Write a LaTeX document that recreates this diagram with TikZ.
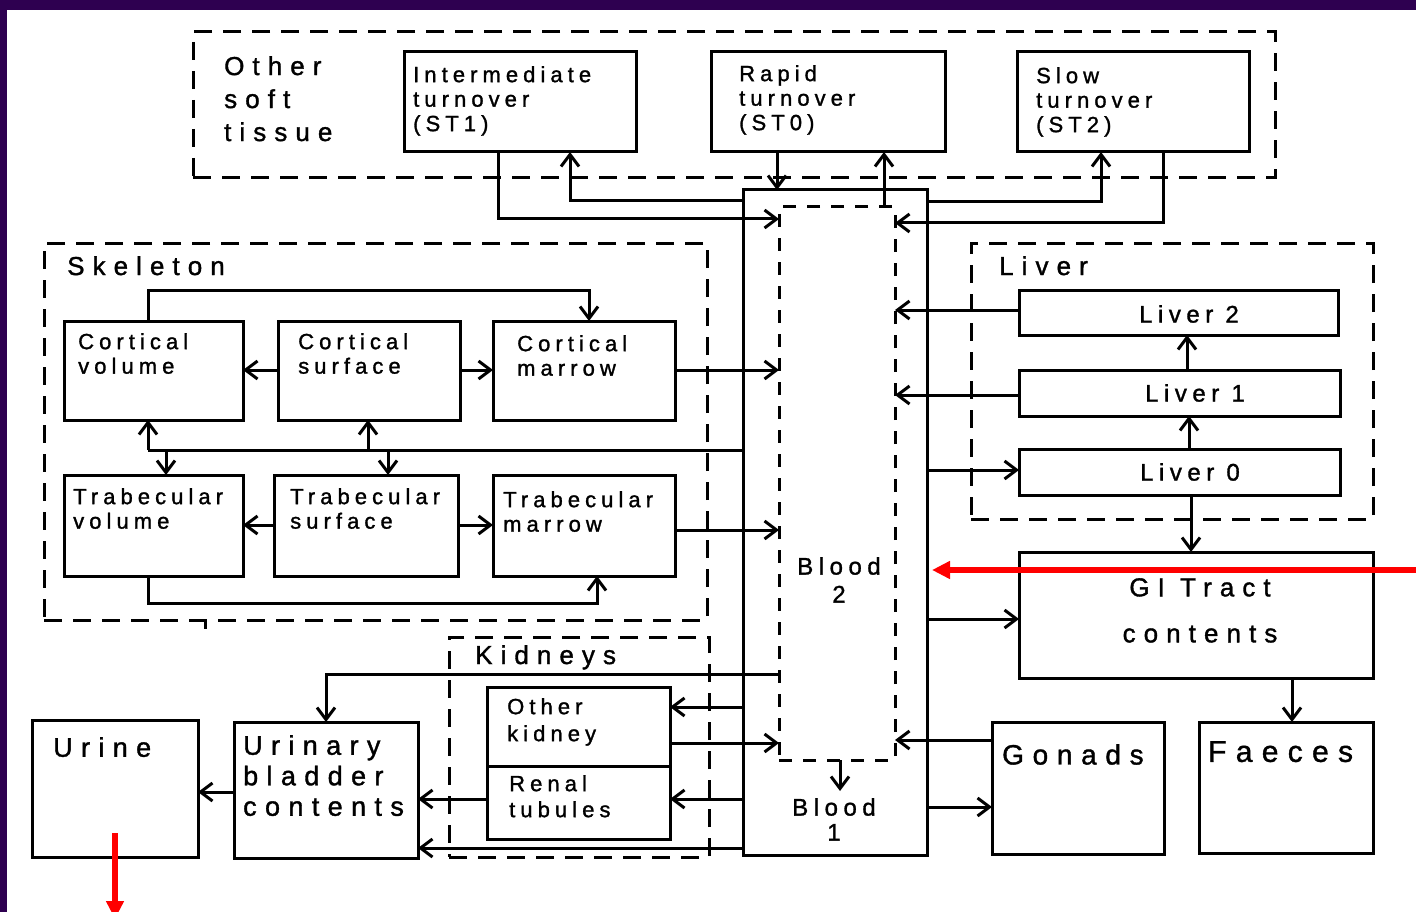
\documentclass[tikz,border=0pt]{standalone}
\usepackage{fontspec}
\setmainfont{Liberation Sans}
\newfontfamily\bigfont{Liberation Sans}[LetterSpace=31,FakeBold=1.3]
\newfontfamily\smfont{Liberation Sans}[LetterSpace=23,FakeBold=1.3]
\usetikzlibrary{arrows.meta}
\definecolor{framec}{RGB}{46,0,80}
\tikzset{
  box/.style={draw, line width=3pt, anchor=north west, inner sep=0pt, outer sep=0pt},
  grp/.style={draw, line width=3pt, dash pattern=on 18pt off 11pt, anchor=north west, inner sep=0pt, outer sep=0pt},
  bgrp/.style={draw, line width=3pt, dash pattern=on 13pt off 11pt, anchor=north west, inner sep=0pt, outer sep=0pt},
  conn/.style={line width=3pt},
  arr/.style={line width=3pt, -{Straight Barb[length=12pt,width=18pt,line width=3pt]}},
  redarr/.style={draw=red, line width=5.5pt, -{Triangle[length=18pt,width=17pt]}},
  biglbl/.style={anchor=north west, inner sep=0pt, align=left, font=\bigfont\fontsize{26}{33}\selectfont},
  smlbl/.style={anchor=north west, inner sep=0pt, align=left, font=\smfont\fontsize{22}{24.5}\selectfont},
  midlbl/.style={inner sep=0pt, align=center, font=\smfont\fontsize{24}{27}\selectfont},
}
\newcommand\mkbox[6]{\node[#1, minimum width={#4pt-#2pt}, minimum height={#5pt-#3pt}] (#6) at (#2,#3) {};}
\begin{document}
\begin{tikzpicture}[x=1pt,y=-1pt]
\useasboundingbox (0,0) rectangle (1416,912);
\fill[framec] (0,0) rectangle (1416,912);
\fill[white] (7,10) rectangle (1416,912);

% groups
\mkbox{grp}{193}{32}{1275}{178}{gost}
\mkbox{grp}{44}{243}{707}{620}{gskel}
\mkbox{grp}{971}{243}{1373}{519}{gliver}
\mkbox{grp}{449}{637}{709}{857}{gkid}
\draw[conn] (gskel.south -| 205,0) -- (205,629);

% boxes
\mkbox{box}{404}{52}{636}{152}{st1}
\mkbox{box}{711}{52}{945}{152}{st0}
\mkbox{box}{1017}{52}{1249}{152}{st2}
\mkbox{box}{743}{190}{927}{855}{blood1}
\mkbox{bgrp}{779}{207}{895}{760}{blood2}
\mkbox{box}{64}{321}{243}{420}{cvol}
\mkbox{box}{278}{321}{460}{420}{csur}
\mkbox{box}{493}{321}{675}{420}{cmar}
\mkbox{box}{64}{475}{243}{576}{tvol}
\mkbox{box}{274}{475}{458}{576}{tsur}
\mkbox{box}{493}{475}{675}{576}{tmar}
\mkbox{box}{1019}{290}{1338}{335}{liver2}
\mkbox{box}{1019}{370}{1340}{416}{liver1}
\mkbox{box}{1019}{449}{1340}{495}{liver0}
\mkbox{box}{1019}{552}{1373}{678}{gi}
\mkbox{box}{1199}{722}{1373}{853}{faeces}
\mkbox{box}{992}{722}{1164}{854}{gonads}
\mkbox{box}{487}{687}{670}{766}{okid}
\mkbox{box}{487}{766}{670}{839}{renal}
\mkbox{box}{234}{722}{418}{858}{bladder}
\mkbox{box}{32}{720}{198}{857}{urine}

% labels
\node[biglbl] (tost) at (224,56) {Other\\soft\\tissue};
\node[smlbl] (tst1) at (413,66) {Intermediate\\turnover\\(ST1)};
\node[smlbl] (tst0) at (739,65) {Rapid\\turnover\\(ST0)};
\node[smlbl] (tst2) at (1036,67) {Slow\\turnover\\(ST2)};
\node[biglbl] (tskel) at (67,256) {Skeleton};
\node[smlbl] (tcvol) at (78,333) {Cortical\\volume};
\node[smlbl] (tcsur) at (298,333) {Cortical\\surface};
\node[smlbl] (tcmar) at (517,335) {Cortical\\marrow};
\node[smlbl] (ttvol) at (73,488) {Trabecular\\volume};
\node[smlbl] (ttsur) at (290,488) {Trabecular\\surface};
\node[smlbl] (ttmar) at (503,491) {Trabecular\\marrow};
\node[biglbl] (tliver) at (999,256) {Liver};
\node[midlbl] (tliv2) at (1189,314) {Liver 2};
\node[midlbl] (tliv1) at (1195,393) {Liver 1};
\node[midlbl] (tliv0) at (1190,472) {Liver 0};
\node[midlbl, anchor=north, font=\smfont\fontsize{24}{28}\selectfont] (tb2) at (839,557) {Blood\\2};
\node[midlbl, anchor=north, font=\smfont\fontsize{24}{25}\selectfont] (tb1) at (834,798) {Blood\\1};
\node[biglbl, anchor=north, align=center, font=\bigfont\fontsize{26}{46}\selectfont] (tgi) at (1200,578) {GI Tract\\contents};
\node[biglbl] (tkid) at (475,645) {Kidneys};
\node[smlbl, font=\smfont\fontsize{22}{27}\selectfont] (tokid) at (507,698) {Other\\kidney};
\node[smlbl, font=\smfont\fontsize{22}{26}\selectfont] (trenal) at (509,775) {Renal\\tubules};
\node[biglbl, font=\bigfont\fontsize{27}{30.5}\selectfont] (tblad) at (243,735) {Urinary\\bladder\\contents};
\node[biglbl, font=\bigfont\fontsize{27}{30}\selectfont] (turine) at (53,737) {Urine};
\node[biglbl, font=\bigfont\fontsize{28}{30}\selectfont] (tgon) at (1002,744) {Gonads};
\node[biglbl, font=\bigfont\fontsize{30}{32}\selectfont] (tfae) at (1208,741) {Faeces};

% other soft tissue connectors
\draw[arr] (st1.south -| 498,0) |- (blood2.west |- 0,219);
\draw[arr] (blood1.west |- 0,201) -| (st1.south -| 570,0);
\draw[arr] (st0.south -| 777,0) -- (blood1.north -| 777,0);
\draw[arr] (blood2.north -| 884,0) -- (st0.south -| 884,0);
\draw[arr] (blood1.east |- 0,202) -| (st2.south -| 1101,0);
\draw[arr] (st2.south -| 1163,0) |- (blood2.east |- 0,223);

% skeleton connectors
\draw[arr] (cvol.north -| 148,0) -- (148,290) -- (589,290) -- (cmar.north -| 589,0);
\draw[arr] (csur.west |- 0,370) -- (cvol.east |- 0,370);
\draw[arr] (csur.east |- 0,370) -- (cmar.west |- 0,370);
\draw[arr] (cmar.east |- 0,370) -- (blood2.west |- 0,370);
\draw[conn] (blood1.west |- 0,450) -- (148,450);
\draw[arr] (148,450) -- (cvol.south -| 148,0);
\draw[arr] (166,450) -- (tvol.north -| 166,0);
\draw[arr] (368,450) -- (csur.south -| 368,0);
\draw[arr] (388,450) -- (tsur.north -| 388,0);
\draw[arr] (tsur.west |- 0,525) -- (tvol.east |- 0,525);
\draw[arr] (tsur.east |- 0,525) -- (tmar.west |- 0,525);
\draw[arr] (tmar.east |- 0,530) -- (blood2.west |- 0,530);
\draw[arr] (tvol.south -| 148,0) -- (148,603) -- (597,603) -- (tmar.south -| 597,0);

% liver, GI, gonads
\draw[arr] (liver2.west |- 0,310) -- (blood2.east |- 0,310);
\draw[arr] (liver1.west |- 0,395) -- (blood2.east |- 0,395);
\draw[arr] (blood1.east |- 0,470) -- (liver0.west |- 0,470);
\draw[arr] (liver1.north -| 1187,0) -- (liver2.south -| 1187,0);
\draw[arr] (liver0.north -| 1189,0) -- (liver1.south -| 1189,0);
\draw[arr] (liver0.south -| 1191,0) -- (gi.north -| 1191,0);
\draw[arr] (blood1.east |- 0,619) -- (gi.west |- 0,619);
\draw[arr] (gi.south -| 1292,0) -- (faeces.north -| 1292,0);
\draw[arr] (gonads.west |- 0,740) -- (blood2.east |- 0,740);
\draw[arr] (blood1.east |- 0,807) -- (gonads.west |- 0,807);
\coordinate (b2down) at (840,791);
\draw[arr] (blood2.south -| b2down) -- (b2down);

% kidneys, bladder, urine
\draw[arr] (blood1.west |- 0,707) -- (okid.east |- 0,707);
\draw[arr] (okid.east |- 0,743) -- (blood2.west |- 0,743);
\draw[arr] (blood1.west |- 0,799) -- (renal.east |- 0,799);
\draw[arr] (renal.west |- 0,799) -- (bladder.east |- 0,799);
\draw[arr] (blood1.west |- 0,848) -- (bladder.east |- 0,848);
\draw[arr] (blood2.west |- 0,674) -| (bladder.north -| 326,0);
\draw[arr] (bladder.west |- 0,792) -- (urine.east |- 0,792);

% red arrows
\coordinate (rin) at (1416,570);
\draw[redarr, shorten >=5pt] (rin) -- (blood1.east |- rin);
\coordinate (rstart) at (115,833);
\coordinate (rend) at (115,919);
\draw[redarr] (rstart) -- (rend);
\end{tikzpicture}
\end{document}
